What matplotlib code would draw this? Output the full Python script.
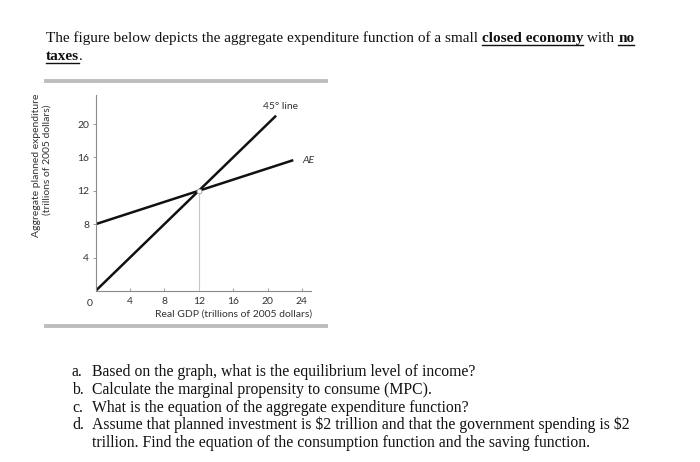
import matplotlib
matplotlib.use("Agg")
import matplotlib.pyplot as plt
from matplotlib.lines import Line2D

W, H = 700, 462

# chart data (trillions of 2005 dollars)
line45_x = [0, 21]
line45_y = [0, 21]
ae_x = [0, 23]
ae_y = [8, 15.67]
eq_x, eq_y = 12, 12
x_ticks = [4, 8, 12, 16, 20, 24]
y_ticks = [4, 8, 12, 16, 20]

title_parts = [
    ("The figure below depicts the aggregate expenditure function of a small ", False),
    ("closed economy", True),
    (" with ", False),
    ("no", True),
]
title_line2 = [("taxes", True), (".", False)]

questions = [
    ("a.", "Based on the graph, what is the equilibrium level of income?"),
    ("b.", "Calculate the marginal propensity to consume (MPC)."),
    ("c.", "What is the equation of the aggregate expenditure function?"),
    ("d.", "Assume that planned investment is \\$2 trillion and that the government spending is \\$2"),
    ("", "trillion. Find the equation of the consumption function and the saving function."),
]

fig = plt.figure(figsize=(7, 4.62), dpi=100)
fig.patch.set_facecolor("white")
renderer = fig.canvas.get_renderer()

serif = "Liberation Serif"
tsize = 11.0


def px(x, y):
    return x / W, 1 - y / H


def write_parts(parts, x0, y):
    x = x0
    for txt, bold in parts:
        t = fig.text(*px(x, y), txt, family=serif, fontsize=tsize,
                     weight="bold" if bold else "normal", va="baseline", color="#111")
        bb = t.get_window_extent(renderer)
        if bold:
            fig.add_artist(Line2D([x / W, (x + bb.width) / W],
                                  [1 - (y + 2.5) / H] * 2, color="#111", lw=1.0))
        x += bb.width


write_parts(title_parts, 46, 42)
write_parts(title_line2, 46, 60)

# gray separator bars
for yb in (81, 326):
    fig.add_artist(Line2D([46 / W, 326 / W], [1 - yb / H] * 2, color="#bdbdbd", lw=2.8))

# questions
for i, (lab, q) in enumerate(questions):
    y = 376.5 + i * 17.6
    if lab:
        fig.text(*px(72, y), lab, family=serif, fontsize=11.3, va="baseline", color="#111")
    fig.text(*px(92, y), q, family=serif, fontsize=11.3, va="baseline", color="#111")

# chart axes
x0, y0 = 95.5, 291
xs, ys = 8.6, 8.35
xmax, ymax = 25, 23.5
ax = fig.add_axes([x0 / W, (H - y0) / H, xmax * xs / W, ymax * ys / H])
ax.set_xlim(0, xmax)
ax.set_ylim(0, ymax)
for s in ("top", "right"):
    ax.spines[s].set_visible(False)
for s in ("left", "bottom"):
    ax.spines[s].set_color("#8a8a8a")
    ax.spines[s].set_linewidth(0.8)

sans = "Lato"
fs = 7.5
ax.set_xticks(x_ticks)
ax.set_yticks(y_ticks)
ax.set_xticklabels([str(v) for v in x_ticks], family=sans, fontsize=fs, color="#333")
ax.set_yticklabels([str(v) for v in y_ticks], family=sans, fontsize=fs, color="#333")
ax.tick_params(axis="x", direction="in", length=2.5, width=0.6, color="#8a8a8a", pad=4)
ax.tick_params(axis="y", direction="out", length=2.5, width=0.6, color="#8a8a8a", pad=2)
ax.text(-0.7, -1.0, "0", family=sans, fontsize=fs, color="#333", ha="center", va="top")

ax.plot([eq_x, eq_x], [0, eq_y], color="#c8c8c8", lw=0.8)
ax.plot(line45_x, line45_y, color="#111", lw=1.8, solid_capstyle="butt")
ax.plot(ae_x, ae_y, color="#111", lw=1.8, solid_capstyle="butt")
ax.plot([eq_x], [eq_y], "o", ms=3.5, mfc="white", mec="#999", mew=0.6, zorder=5)

ax.text(19.5, 21.6, "45\u00b0 line", family=sans, fontsize=fs, color="#333", va="bottom")
ax.text(24.0, 15.6, "AE", family=sans, fontsize=fs, color="#333", style="italic", va="center")

fig.text(234 / W, 1 - 314 / H, "Real GDP (trillions of 2005 dollars)", family=sans,
         fontsize=fs, color="#333", ha="center", va="center")
fig.text(37 / W, 1 - 165 / H, "Aggregate planned expenditure", family=sans, fontsize=fs,
         color="#333", rotation=90, ha="center", va="center")
fig.text(47 / W, 1 - 160 / H, "(trillions of 2005 dollars)", family=sans, fontsize=fs,
         color="#333", rotation=90, ha="center", va="center")

fig.savefig("out.png", dpi=100)
